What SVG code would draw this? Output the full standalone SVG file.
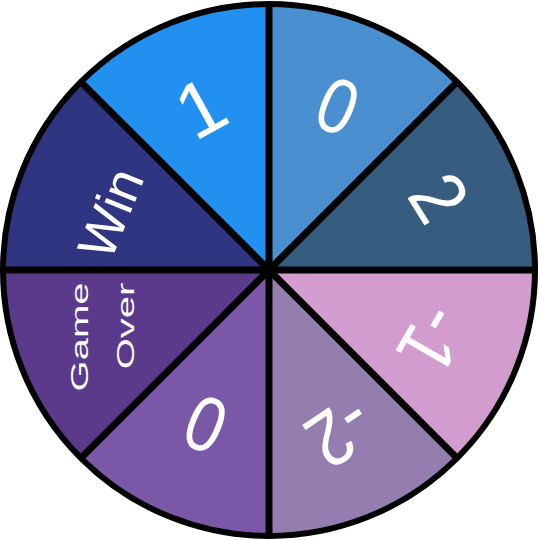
<svg xmlns="http://www.w3.org/2000/svg" width="540" height="540" viewBox="0 0 540 540">
<style>
.w{stroke:none}
.t{font-family:"Liberation Sans",Arial,sans-serif;fill:#fff;text-anchor:middle}
.d{font-size:78px}
.ln{stroke:#000;stroke-width:7;fill:none}
</style>
<rect width="540" height="540" fill="#fff"/>
<g id="seg-0a"><path class="w" fill="#4a90d0" d="M269,270 L269,4 A266,266 0 0 1 457.1,81.9 Z"/><text class="t d" transform="translate(338,105) rotate(22.5) scale(0.85,1)" dy="0.36em">0</text></g>
<g id="seg-2"><path class="w" fill="#365c7f" d="M269,270 L457.1,81.9 A266,266 0 0 1 535,270 Z"/><text class="t d" transform="translate(440,197) rotate(58) scale(0.9,1)" dy="0.36em">2</text></g>
<g id="seg-m1"><path class="w" fill="#d39ccf" d="M269,270 L535,270 A266,266 0 0 1 457.1,458.1 Z"/><text class="t d" transform="translate(434,340) rotate(120) scale(0.9,1)" dy="0.36em">-1</text></g>
<g id="seg-m2"><path class="w" fill="#937eaf" d="M269,270 L457.1,458.1 A266,266 0 0 1 269,536 Z"/><text class="t d" transform="translate(341,433) rotate(146) scale(0.9,1)" dy="0.36em">-2</text></g>
<g id="seg-0b"><path class="w" fill="#7a58a7" d="M269,270 L269,536 A266,266 0 0 1 80.9,458.1 Z"/><text class="t d" transform="translate(206,423) rotate(22.5) scale(0.85,1)" dy="0.36em">0</text></g>
<g id="seg-gameover"><path class="w" fill="#5b3a8b" d="M269,270 L80.9,458.1 A266,266 0 0 1 3,270 Z"/><text class="t" font-size="40" transform="translate(88,337) rotate(-90) scale(1,0.6)">Game</text><text class="t" font-size="40" transform="translate(134,326) rotate(-90) scale(1,0.6)">Over</text></g>
<g id="seg-win"><path class="w" fill="#2f3580" d="M269,270 L3,270 A266,266 0 0 1 80.9,81.9 Z"/><text class="t" font-size="53" transform="translate(110,213) rotate(-68)" dy="0.36em">Win</text></g>
<g id="seg-1"><path class="w" fill="#2190f0" d="M269,270 L80.9,81.9 A266,266 0 0 1 269,4 Z"/><text class="t d" transform="translate(200,107) rotate(-29)" dy="0.36em">1</text></g>
<g id="connectors">
<line class="ln" x1="269" y1="4" x2="269" y2="536"/>
<line class="ln" x1="3" y1="270" x2="535" y2="270"/>
<line class="ln" x1="80.9" y1="81.9" x2="457.1" y2="458.1"/>
<line class="ln" x1="80.9" y1="458.1" x2="457.1" y2="81.9"/>
<circle cx="269" cy="270" r="266" fill="none" stroke="#000" stroke-width="6"/>
</g>
</svg>
